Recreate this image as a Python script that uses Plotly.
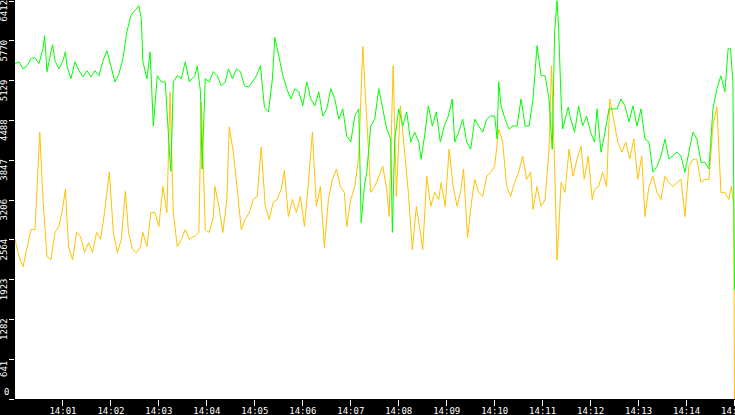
import pandas as pd
import plotly.graph_objects as go

# ── Data ─────────────────────────────────────────────────────────────────────
# seconds after 14:00:00, value pairs for each series

green_sec = [
    0, 5, 10, 15, 20, 25, 30, 35, 37, 40, 45, 47, 50, 55, 60, 63, 65, 70, 75, 80,
    85, 90, 95, 100, 105, 110, 115, 120, 125, 130, 135, 140, 145, 150, 155, 158, 160, 165, 169, 173,
    178, 183, 188, 193, 195, 198, 203, 208, 213, 218, 223, 225, 228, 232, 234, 238, 243, 248, 253, 258,
    263, 267, 272, 277, 282, 287, 292, 297, 302, 307, 312, 317, 322, 325, 330, 335, 340, 345, 350, 355,
    360, 365, 370, 375, 380, 385, 390, 395, 400, 405, 410, 415, 420, 425, 430, 433, 437, 440, 445, 450,
    455, 460, 465, 470, 472, 475, 480, 485, 490, 495, 500, 505, 508, 513, 517, 522, 527, 532, 537, 542,
    547, 550, 555, 560, 565, 570, 575, 580, 585, 590, 595, 600, 603, 605, 608, 613, 618, 623, 628, 633,
    638, 643, 648, 653, 658, 663, 668, 672, 675, 678, 680, 683, 685, 692, 695, 700, 705, 710, 715, 720,
    725, 728, 733, 738, 743, 748, 753, 758, 763, 768, 773, 778, 783, 788, 793, 798, 803, 808, 813, 818,
    823, 828, 833, 838, 843, 848, 853, 858, 863, 868, 873, 878, 883, 888, 892, 895, 898, 899, 900,
]
green_val = [
    5400, 5435, 5320, 5370, 5485, 5500, 5405, 5645, 5855, 5275, 5595, 5710, 5450, 5320, 5450, 5595, 5370, 5160, 5435, 5290,
    5190, 5290, 5190, 5290, 5210, 5450, 5615, 5355, 5110, 5240, 5485, 5920, 6180, 6260, 6340, 6130, 5435, 5160, 5595, 4400,
    5210, 5110, 5110, 4025, 3670, 5110, 5210, 5160, 5435, 5110, 5190, 5210, 5370, 4950, 3705, 5160, 5110, 5275, 5210, 5045,
    5110, 5320, 5160, 5320, 5275, 5045, 5030, 5110, 5210, 5370, 4705, 4625, 5160, 5825, 5530, 5210, 5000, 4835, 5000, 4950,
    4725, 5110, 4835, 4725, 4950, 4560, 4675, 5000, 4835, 4510, 4675, 4235, 4140, 4560, 4675, 2845, 3425, 3655, 4400, 4510,
    5000, 4675, 4350, 4190, 2685, 4190, 4675, 4400, 4625, 4140, 4300, 4140, 3865, 4300, 4725, 4400, 4625, 4140, 4400, 4560,
    4835, 4140, 4300, 4510, 4140, 4025, 4510, 4400, 4300, 4510, 4560, 4560, 4190, 5110, 4725, 4510, 4350, 4400, 4400, 4835,
    4400, 4400, 4835, 5695, 5210, 5210, 4835, 4025, 5920, 6420, 5970, 4835, 4350, 4705, 4510, 4300, 4725, 4400, 4560, 4300,
    4140, 4675, 3980, 4300, 4675, 4675, 4675, 4835, 4725, 4465, 4725, 4400, 4675, 4190, 4140, 3655, 3750, 3915, 4190, 3865,
    3915, 3980, 3915, 3655, 3980, 4300, 4190, 3815, 3815, 3705, 4675, 5000, 5210, 4950, 5645, 5645, 5110, 2685, 1760,
]

yellow_sec = [
    0, 5, 10, 15, 20, 25, 30, 31, 35, 40, 45, 50, 55, 60, 63, 67, 72, 77, 82, 87,
    92, 97, 102, 107, 112, 118, 123, 128, 133, 138, 142, 147, 152, 157, 160, 165, 170, 175, 180, 185,
    190, 194, 198, 203, 208, 213, 218, 223, 225, 230, 233, 238, 243, 248, 250, 255, 260, 265, 268, 273,
    278, 283, 288, 293, 298, 303, 308, 313, 318, 323, 328, 333, 337, 342, 347, 352, 357, 362, 367, 372,
    377, 382, 387, 392, 397, 402, 407, 412, 415, 420, 425, 430, 435, 440, 445, 450, 455, 460, 465, 468,
    473, 477, 482, 487, 492, 497, 502, 507, 510, 515, 520, 525, 530, 533, 538, 543, 548, 553, 558, 561,
    566, 571, 575, 580, 585, 590, 595, 600, 605, 610, 615, 620, 625, 630, 635, 640, 645, 648, 653, 658,
    663, 668, 671, 675, 678, 680, 683, 688, 693, 698, 703, 708, 712, 717, 722, 725, 730, 735, 740, 744,
    749, 754, 759, 764, 769, 774, 779, 784, 788, 793, 798, 803, 808, 813, 818, 823, 828, 833, 838, 843,
    848, 853, 858, 863, 868, 873, 878, 883, 888, 893, 896, 899, 900,
]
yellow_val = [
    2570, 2295, 2130, 2405, 2730, 2730, 4140, 4300, 3215, 2295, 2245, 2685, 2780, 3105, 3380, 2455, 2245, 2685, 2620, 2360,
    2520, 2360, 2685, 2570, 3005, 3655, 2685, 2360, 2570, 3345, 2685, 2405, 2360, 2455, 2685, 2455, 3005, 3005, 2780, 3425,
    3005, 4950, 3005, 2455, 2570, 2730, 2570, 2620, 2620, 2685, 4785, 2730, 2685, 2940, 3425, 3105, 2685, 3215, 4385, 3980,
    3380, 2730, 2895, 3005, 3215, 3265, 4060, 3105, 2895, 3170, 3215, 3380, 3685, 2940, 3215, 3005, 3265, 2780, 3490, 4300,
    3105, 3425, 2440, 3215, 3540, 3705, 3425, 3330, 2780, 3215, 3425, 3915, 5680, 4560, 3330, 3425, 3590, 3750, 3380, 2940,
    5370, 3265, 4725, 4025, 3330, 2405, 3105, 2685, 2405, 3590, 3105, 3330, 3215, 3490, 3105, 4025, 3425, 3105, 3380, 3705,
    2600, 3170, 3540, 3330, 3265, 3590, 3655, 3750, 4350, 4140, 3425, 3265, 3490, 3655, 3915, 3540, 3655, 3055, 3425, 3105,
    3215, 4025, 5370, 3750, 2245, 2685, 3490, 3330, 4025, 3590, 3865, 4075, 3540, 3915, 3215, 3380, 3425, 3655, 3425, 4835,
    4510, 4140, 3980, 4140, 3865, 4190, 3540, 3915, 2940, 3425, 3590, 3330, 3215, 3590, 3490, 3425, 3490, 3540, 2940, 3750,
    3865, 3865, 3490, 3540, 3540, 4400, 4705, 3330, 3330, 3215, 3425, 3105, 0,
]

y_ticks = [0, 641, 1282, 1923, 2564, 3206, 3847, 4488, 5129, 5770, 6412]
x_ticks = ["14:01", "14:02", "14:03", "14:04", "14:05", "14:06", "14:07", "14:08",
           "14:09", "14:10", "14:11", "14:12", "14:13", "14:14", "14:15"]

DAY = "2024-01-01 "
START = pd.Timestamp(DAY + "14:00:00")
END = pd.Timestamp(DAY + "14:15:00.6")

GREEN = "#00ff00"
YELLOW = "#ffc200"
FONT = dict(family="DejaVu Sans Mono", size=9, color="white")


def to_times(secs):
    return START + pd.to_timedelta(secs, unit="s")


fig = go.Figure()
fig.add_trace(go.Scatter(
    x=to_times(yellow_sec), y=yellow_val,
    mode="lines", line=dict(color=YELLOW, width=1),
))
fig.add_trace(go.Scatter(
    x=to_times(green_sec), y=green_val,
    mode="lines", line=dict(color=GREEN, width=1),
))

fig.update_layout(
    width=735, height=415,
    margin=dict(l=15, r=0, t=0, b=16, autoexpand=False),
    paper_bgcolor="black",
    plot_bgcolor="white",
    showlegend=False,
    font=FONT,
)
fig.update_xaxes(
    type="date", range=[START, END],
    tickvals=[pd.Timestamp(DAY + t) for t in x_ticks], ticktext=x_ticks,
    ticks="outside", ticklen=6, tickcolor="white", tickwidth=1,
    ticklabelstandoff=-3, ticklabeloverflow="allow",
    tickfont=FONT, showgrid=False, zeroline=False, showline=False,
)
# labels hang below their tick; the bottom one ("0") sits above it instead
fig.update_yaxes(
    range=[0, 6430],
    tickvals=y_ticks, ticktext=[""] + [str(v) for v in y_ticks[1:]],
    tickangle=-90, ticklabelshift=11, ticklabelstandoff=-2,
    ticklabeloverflow="allow",
    ticks="outside", ticklen=5, tickcolor="white", tickwidth=1,
    tickfont=FONT, showgrid=False, zeroline=False, showline=False,
)
fig.add_annotation(
    text=str(y_ticks[0]), font=FONT, showarrow=False,
    xref="paper", yref="paper", x=0, y=0,
    xanchor="center", yanchor="bottom", xshift=-9,
)

# page body has a default 8px margin; drop it so the chart fills the window
fig.write_html(
    "out.html",
    config={"displayModeBar": False},
    post_script="document.body.style.margin='0';document.body.style.overflow='hidden';",
)
